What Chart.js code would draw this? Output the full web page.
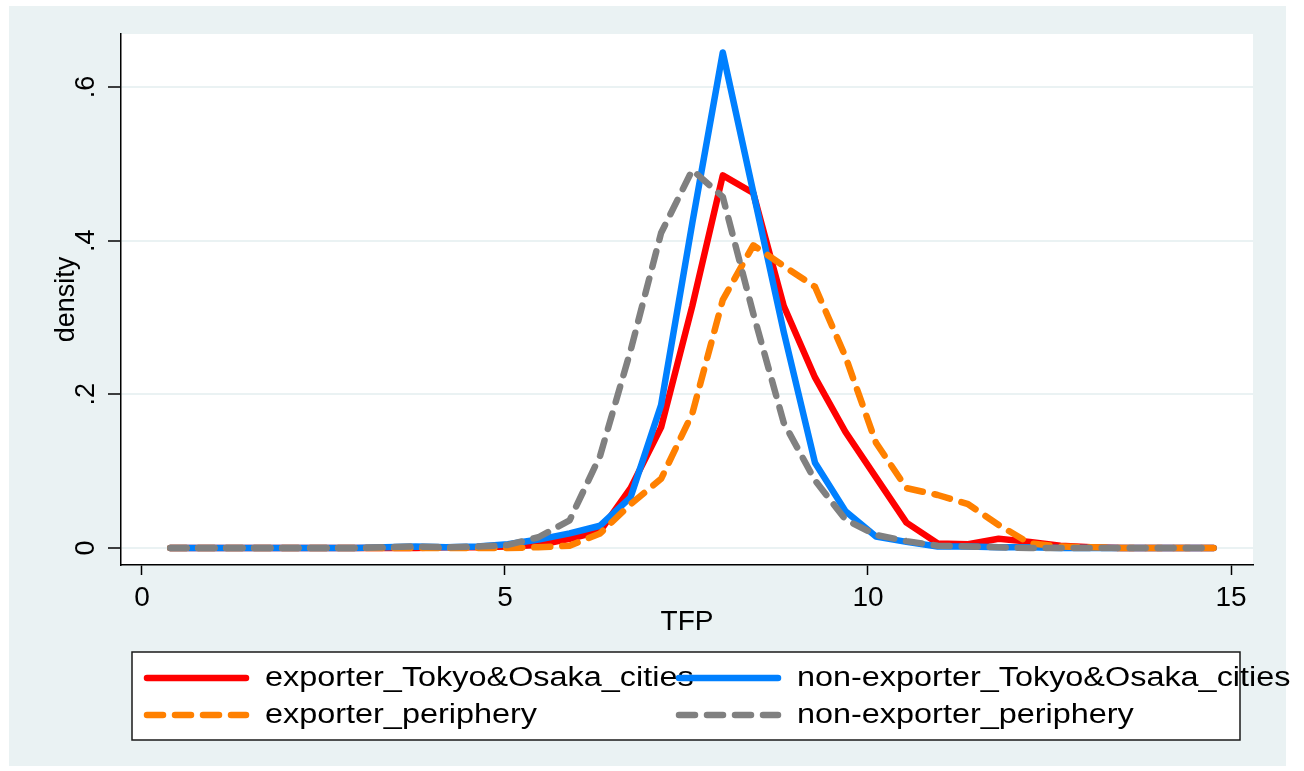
<!DOCTYPE html>
<html>
<head>
<meta charset="utf-8">
<title>TFP density</title>
<script src="https://cdn.jsdelivr.net/npm/chart.js@4.4.1/dist/chart.umd.min.js"></script>
<style>
  html, body { margin: 0; padding: 0; background: #ffffff; }
  canvas { display: block; }
</style>
</head>
<body>
<canvas id="tfpChart" width="1304" height="771"></canvas>
<script>
// Evaluation grid of the kernel density estimates (TFP)
const tfpGrid = [0.39, 0.81, 1.24, 1.66, 2.08, 2.50, 2.93, 3.35, 3.77, 4.19, 4.62, 5.04,
  5.46, 5.89, 6.31, 6.73, 7.15, 7.58, 8.00, 8.42, 8.84, 9.27, 9.69, 10.11, 10.53,
  10.96, 11.38, 11.80, 12.23, 12.65, 13.07, 13.49, 13.92, 14.34, 14.76];

// Estimated densities for each group of firms
const exporterCities = [0, 0, 0, 0, 0, 0, 0, 0, 0, 0.001, 0.001, 0.002,
  0.004, 0.012, 0.022, 0.078, 0.157, 0.315, 0.485, 0.462, 0.315, 0.222, 0.151, 0.092, 0.033,
  0.006, 0.005, 0.012, 0.008, 0.003, 0.001, 0, 0, 0, 0];
const nonExporterCities = [0, 0, 0, 0, 0, 0, 0, 0.001, 0.002, 0.001, 0.002, 0.005,
  0.011, 0.019, 0.029, 0.066, 0.186, 0.423, 0.645, 0.463, 0.281, 0.111, 0.048, 0.015, 0.008,
  0.002, 0.002, 0.001, 0.001, 0, 0, 0, 0, 0, 0];
const exporterPeriphery = [0, 0, 0, 0, 0, 0, 0, 0, 0, 0, 0, 0,
  0.001, 0.003, 0.019, 0.057, 0.090, 0.175, 0.323, 0.394, 0.367, 0.340, 0.249, 0.137, 0.078,
  0.069, 0.057, 0.030, 0.006, 0.002, 0.001, 0, 0, 0, 0];
const nonExporterPeriphery = [0, 0, 0, 0, 0, 0, 0, 0.001, 0.002, 0.001, 0.002, 0.004,
  0.014, 0.036, 0.120, 0.257, 0.410, 0.492, 0.457, 0.305, 0.163, 0.088, 0.037, 0.017, 0.009,
  0.003, 0.002, 0.001, 0, 0, 0, 0, 0, 0, 0];

const seriesNames = ['exporter_Tokyo&Osaka_cities', 'non-exporter_Tokyo&Osaka_cities',
  'exporter_periphery', 'non-exporter_periphery'];

const xTickValues = [0, 5, 10, 15];
const yTickValues = [0, 0.2, 0.4, 0.6];
const yTickLabels = ['0', '.2', '.4', '.6'];

const BG = '#eaf2f3';
const FONT = "'Liberation Sans', Arial, Helvetica, sans-serif";
const LINE_W = 6.5;

function toPoints(values) {
  return tfpGrid.map((x, i) => ({ x: x, y: values[i] }));
}

const solid = [];
const dashed = [16, 12];

function series(label, values, color, dash, order) {
  return {
    label: label,
    data: toPoints(values),
    borderColor: color,
    backgroundColor: color,
    borderWidth: LINE_W,
    borderDash: dash,
    borderCapStyle: 'round',
    borderJoinStyle: 'round',
    pointRadius: 0,
    pointHoverRadius: 0,
    tension: 0,
    fill: false,
    order: order
  };
}

// Light graph region with a white plot area
const frame = {
  id: 'frame',
  beforeDraw(chart) {
    const { ctx, chartArea: a } = chart;
    ctx.save();
    ctx.fillStyle = '#ffffff';
    ctx.fillRect(0, 0, chart.width, chart.height);
    ctx.fillStyle = BG;
    ctx.fillRect(9, 6, 1277, 760);
    ctx.fillStyle = '#ffffff';
    ctx.fillRect(a.left, a.top, a.right - a.left, a.bottom - a.top);
    ctx.restore();
  }
};

// Two-column legend box below the plot
const legendBox = {
  id: 'legendBox',
  afterDraw(chart) {
    const ctx = chart.ctx;
    ctx.save();
    ctx.fillStyle = '#ffffff';
    ctx.fillRect(132, 652, 1108, 88);
    ctx.strokeStyle = '#1a1a1a';
    ctx.lineWidth = 1.5;
    ctx.strokeRect(132, 652, 1108, 88);
    const cells = [[147, 678], [679, 678], [147, 715], [679, 715]];
    chart.data.datasets.forEach((ds, i) => {
      const [x, y] = cells[i];
      ctx.beginPath();
      ctx.setLineDash(ds.borderDash);
      ctx.lineCap = 'round';
      ctx.lineWidth = LINE_W;
      ctx.strokeStyle = ds.borderColor;
      ctx.moveTo(x, y);
      ctx.lineTo(x + 99, y);
      ctx.stroke();
      ctx.setLineDash([]);
      ctx.save();
      ctx.translate(x + 118, y);
      ctx.scale(1.2, 1);
      ctx.fillStyle = '#000000';
      ctx.font = '27px ' + FONT;
      ctx.textBaseline = 'middle';
      ctx.textAlign = 'left';
      ctx.fillText(ds.label, 0, 1);
      ctx.restore();
    });
    ctx.restore();
  }
};

new Chart(document.getElementById('tfpChart'), {
  type: 'line',
  data: {
    datasets: [
      series(seriesNames[0], exporterCities, '#ff0000', solid, 4),
      series(seriesNames[1], nonExporterCities, '#0080ff', solid, 3),
      series(seriesNames[2], exporterPeriphery, '#ff8000', dashed, 2),
      series(seriesNames[3], nonExporterPeriphery, '#808080', dashed, 1)
    ]
  },
  options: {
    responsive: false,
    animation: false,
    events: [],
    layout: { padding: { top: 34, right: 51, left: 0, bottom: 0 } },
    plugins: {
      legend: { display: false },
      tooltip: { enabled: false },
      title: { display: false }
    },
    scales: {
      x: {
        type: 'linear',
        position: 'bottom',
        min: -0.289,
        max: 15.303,
        afterFit(s) { s.height = 206; },
        afterBuildTicks(s) { s.ticks = xTickValues.map(v => ({ value: v })); },
        ticks: {
          autoSkip: false,
          maxRotation: 0,
          minRotation: 0,
          padding: 6,
          color: '#000000',
          font: { family: FONT, size: 28 },
          callback: v => String(v)
        },
        grid: {
          drawOnChartArea: false,
          drawTicks: true,
          tickLength: 10,
          tickColor: '#000000',
          tickWidth: 1.5
        },
        border: { display: true, color: '#000000', width: 1.5 },
        title: {
          display: true,
          text: 'TFP',
          color: '#000000',
          font: { family: FONT, size: 28 },
          padding: { top: 0, bottom: 132 }
        }
      },
      y: {
        type: 'linear',
        position: 'left',
        min: -0.0221,
        max: 0.669,
        afterFit(s) { s.width = 121; },
        afterBuildTicks(s) { s.ticks = yTickValues.map(v => ({ value: v })); },
        ticks: {
          autoSkip: false,
          minRotation: 90,
          maxRotation: 90,
          crossAlign: 'center',
          padding: 10,
          color: '#000000',
          font: { family: FONT, size: 27 },
          callback: (v) => {
            const k = yTickValues.findIndex(t => Math.abs(t - v) < 1e-9);
            return k >= 0 ? yTickLabels[k] : '';
          }
        },
        grid: {
          color: BG,
          lineWidth: 2,
          drawTicks: true,
          tickLength: 13,
          tickColor: '#000000',
          tickWidth: 1.5
        },
        border: { display: true, color: '#000000', width: 1.5 },
        title: {
          display: true,
          text: 'density',
          color: '#000000',
          font: { family: FONT, size: 27 },
          padding: { top: 50, bottom: 0 }
        }
      }
    }
  },
  plugins: [frame, legendBox]
});
</script>
</body>
</html>
